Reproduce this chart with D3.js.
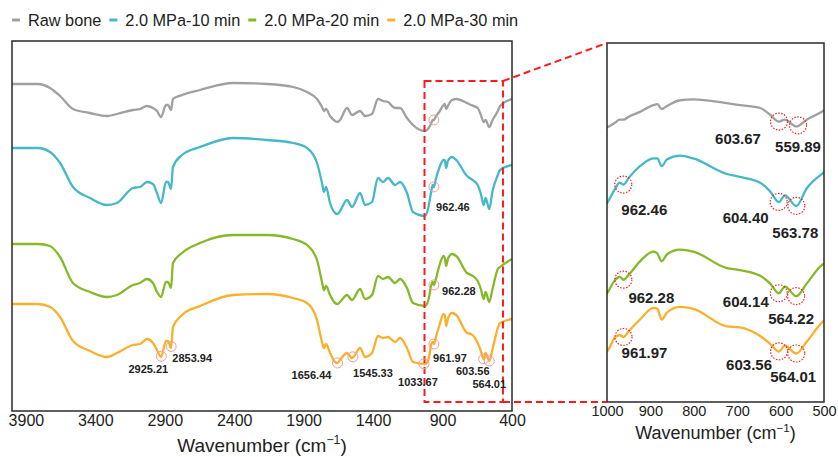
<!DOCTYPE html>
<html>
<head>
<meta charset="utf-8">
<script src="https://cdn.jsdelivr.net/npm/d3@7"></script>
<style>
  body { margin: 0; background: #fff; }
  svg { font-family: "Liberation Sans", Arial, sans-serif; }
</style>
</head>
<body>
<script>
// FTIR spectra, transmittance in arbitrary units (curves offset)
const wavenumbers = [4000, 3813, 3726, 3654, 3561, 3438, 3316, 3244, 3129, 3078, 3028, 2985, 2956, 2927, 2891, 2877, 2855, 2841, 2776, 2646, 2409, 2164, 1977, 1876, 1804, 1768, 1754, 1739, 1710, 1674, 1656, 1638, 1588, 1552, 1494, 1458, 1408, 1365, 1329, 1293, 1242, 1206, 1156, 1113, 1026, 1000, 981, 971, 962, 950, 924, 893, 884, 874, 862, 832, 801, 724, 694, 647, 624, 604, 590, 564, 540, 502, 486, 400];

const rawBone = [327, 327, 323, 315, 302, 298, 295, 297, 301, 302, 305, 303, 300, 294, 306, 306, 301, 312, 316, 321, 328, 327, 324, 319, 312, 304, 300, 302, 295, 290, 289, 291, 303, 296, 300, 295, 297, 312, 310, 309, 303, 303, 293, 286, 280, 283, 288, 291, 291, 294, 299, 306, 307, 302, 305, 311, 312, 308, 306, 303, 296, 289, 291, 284, 291, 300, 305, 312];
const mpa10 = [263, 263, 259, 248, 224, 213, 206, 208, 223, 224, 229, 227, 218, 208, 229, 229, 222, 244, 256, 264, 273, 271, 268, 263, 248, 228, 219, 224, 208, 198, 197, 200, 211, 204, 218, 206, 209, 233, 229, 233, 226, 229, 218, 199, 195, 205, 220, 226, 224, 231, 243, 251, 251, 243, 250, 254, 251, 235, 232, 226, 217, 206, 213, 202, 220, 236, 241, 246];
const mpa20 = [167, 167, 165, 154, 128, 119, 114, 116, 126, 128, 132, 128, 119, 114, 129, 129, 123, 148, 158, 168, 176, 176, 172, 166, 151, 129, 121, 125, 116, 108, 107, 109, 116, 111, 122, 112, 116, 135, 132, 134, 128, 132, 123, 108, 105, 112, 126, 129, 126, 131, 145, 155, 153, 145, 152, 157, 155, 138, 136, 130, 122, 112, 119, 109, 122, 142, 144, 152];
const mpa30 = [107, 107, 104, 94, 70, 60, 54, 58, 66, 67, 72, 68, 61, 54, 70, 70, 63, 84, 96, 105, 116, 117, 113, 108, 91, 69, 63, 67, 58, 49, 48, 51, 58, 53, 63, 54, 58, 75, 73, 74, 69, 73, 63, 49, 47, 52, 67, 69, 67, 73, 85, 97, 96, 85, 92, 98, 96, 78, 77, 68, 60, 52, 58, 50, 62, 83, 88, 92];

const seriesNames = ["Raw bone", "2.0 MPa-10 min", "2.0 MPa-20 min", "2.0 MPa-30 min"];
const seriesValues = [rawBone, mpa10, mpa20, mpa30];
const colors = ["#a0a0a0", "#45b8c8", "#84ba28", "#f9b02c"];

const mainTicks = [3900, 3400, 2900, 2400, 1900, 1400, 900, 400];
const insetTicks = [1000, 900, 800, 700, 600, 500];

// marked peaks: [series index, wavenumber, label]
const mainPeaks = [
  [0, 962.46, ""], [1, 962.46, "962.46"], [2, 962.28, "962.28"],
  [3, 2925.21, "2925.21"], [3, 2853.94, "2853.94"], [3, 1656.44, "1656.44"],
  [3, 1545.33, "1545.33"], [3, 1033.67, "1033.67"], [3, 961.97, "961.97"],
  [3, 603.56, "603.56"], [3, 564.01, "564.01"]
];
const insetPeaks = [
  [0, 603.67, "603.67"], [0, 559.89, "559.89"],
  [1, 962.46, "962.46"], [1, 604.40, "604.40"], [1, 563.78, "563.78"],
  [2, 962.28, "962.28"], [2, 604.14, "604.14"], [2, 564.22, "564.22"],
  [3, 961.97, "961.97"], [3, 603.56, "603.56"], [3, 564.01, "564.01"]
];
// label offsets from the circle (dx, baseline dy)
const mainOffsets = [[0, 0], [19, 24], [25, 10], [-13, 17], [21, 16], [-26, 16], [20, 20], [-6, 22], [16, 18], [-11, 16], [0, 27]];
const insetOffsets = [[-41, 22], [0, 27], [21, 30], [-33, 21], [-1, 32], [28, 23], [-33, 14], [-5, 28], [21, 21], [-30, 19], [-3, 29]];

const W = 838, H = 457;
const main = {left: 12, right: 512, top: 41, bottom: 411};
const inset = {left: 607, right: 824, top: 43, bottom: 402};

const svg = d3.select("body").append("svg")
  .attr("width", W).attr("height", H);

const xMain = d3.scaleLinear().domain([4000, 400]).range([main.left, main.right]);
const yMain = d3.scaleLinear().domain([0, 370]).range([main.bottom, main.top]);
const xInset = d3.scaleLinear().domain([1000, 500]).range([inset.left, inset.right]);
const yInset = d3.scaleLinear().domain([0, 370]).range([inset.bottom, inset.top]);

function valueAt(vals, wn) {
  for (let i = 0; i < wavenumbers.length - 1; i++) {
    const a = wavenumbers[i], b = wavenumbers[i + 1];
    if (wn <= a && wn >= b) {
      const t = (a - wn) / (a - b);
      return vals[i] + t * (vals[i + 1] - vals[i]);
    }
  }
  return vals[vals.length - 1];
}

const defs = svg.append("defs");
defs.append("clipPath").attr("id", "clipMain").append("rect")
  .attr("x", main.left).attr("y", main.top)
  .attr("width", main.right - main.left).attr("height", main.bottom - main.top);
defs.append("clipPath").attr("id", "clipInset").append("rect")
  .attr("x", inset.left).attr("y", inset.top)
  .attr("width", inset.right - inset.left).attr("height", inset.bottom - inset.top);

function drawPanel(x, y, clipId, box) {
  const line = d3.line()
    .x(d => x(d[0])).y(d => y(d[1]))
    .curve(d3.curveMonotoneX);
  const g = svg.append("g").attr("clip-path", "url(#" + clipId + ")");
  seriesValues.forEach((vals, i) => {
    g.append("path")
      .datum(wavenumbers.map((w, j) => [w, vals[j]]))
      .attr("fill", "none")
      .attr("stroke", colors[i])
      .attr("stroke-width", 2.3)
      .attr("stroke-linejoin", "round")
      .attr("d", line);
  });
  svg.append("rect")
    .attr("x", box.left).attr("y", box.top)
    .attr("width", box.right - box.left).attr("height", box.bottom - box.top)
    .attr("fill", "none").attr("stroke", "#2a2a2a").attr("stroke-width", 1.5);
}

drawPanel(xMain, yMain, "clipMain", main);
drawPanel(xInset, yInset, "clipInset", inset);

// axes (labels only)
const axMain = svg.append("g")
  .attr("transform", "translate(0," + main.bottom + ")")
  .call(d3.axisBottom(xMain).tickValues(mainTicks).tickFormat(d3.format("d"))
    .tickSize(0).tickPadding(4));
axMain.select(".domain").remove();
axMain.selectAll("text").attr("font-size", 16).attr("fill", "#222")
  .attr("font-family", "Liberation Sans, Arial, sans-serif");

const axInset = svg.append("g")
  .attr("transform", "translate(0," + inset.bottom + ")")
  .call(d3.axisBottom(xInset).tickValues(insetTicks).tickFormat(d3.format("d"))
    .tickSize(0).tickPadding(4));
axInset.select(".domain").remove();
axInset.selectAll("text").attr("font-size", 14.5).attr("fill", "#222")
  .attr("font-family", "Liberation Sans, Arial, sans-serif");

function axisTitle(cx, cy, size) {
  const t = svg.append("text")
    .attr("x", cx).attr("y", cy)
    .attr("text-anchor", "middle")
    .attr("font-size", size).attr("fill", "#222");
  t.append("tspan").text("Wavenumber (cm");
  t.append("tspan").attr("font-size", size * 0.65).attr("dy", -size * 0.4).text("\u22121");
  t.append("tspan").attr("dy", size * 0.4).text(")");
}
axisTitle((main.left + main.right) / 2, 452, 19);
axisTitle((inset.left + inset.right) / 2, 439, 18);

// zoom box and connectors
const boxL = xMain(1030), boxR = xMain(465), boxT = yMain(330), boxB = yMain(9);
const red = "#ff1a1a";
svg.append("rect")
  .attr("x", boxL).attr("y", boxT)
  .attr("width", boxR - boxL).attr("height", boxB - boxT)
  .attr("fill", "none").attr("stroke", red)
  .attr("stroke-width", 2).attr("stroke-dasharray", "7,4");
svg.append("line")
  .attr("x1", boxR).attr("y1", boxT).attr("x2", inset.left).attr("y2", inset.top)
  .attr("stroke", red).attr("stroke-width", 2).attr("stroke-dasharray", "7,4");
svg.append("line")
  .attr("x1", boxR).attr("y1", boxB).attr("x2", inset.left).attr("y2", boxB)
  .attr("stroke", red).attr("stroke-width", 2).attr("stroke-dasharray", "7,4");

// peak markers
function drawPeaks(peaks, offsets, x, y, r, size, dotted) {
  peaks.forEach((p, i) => {
    const cx = x(p[1]), cy = y(valueAt(seriesValues[p[0]], p[1]));
    svg.append("circle")
      .attr("cx", cx).attr("cy", cy).attr("r", r)
      .attr("fill", "none")
      .attr("stroke", dotted ? "#ee2222" : "#f19a9a")
      .attr("stroke-width", dotted ? 1.2 : 1)
      .attr("stroke-dasharray", dotted ? "1.5,1.5" : null);
    if (p[2]) {
      svg.append("text")
        .attr("x", cx + offsets[i][0]).attr("y", cy + offsets[i][1])
        .attr("text-anchor", "middle")
        .attr("font-size", size).attr("font-weight", "bold")
        .attr("fill", "#222")
        .text(p[2]);
    }
  });
}
drawPeaks(mainPeaks, mainOffsets, xMain, yMain, 5, 11, false);
drawPeaks(insetPeaks, insetOffsets, xInset, yInset, 8.5, 15, true);

// legend
let lx = 12;
seriesNames.forEach((name, i) => {
  svg.append("line")
    .attr("x1", lx).attr("x2", lx + 8).attr("y1", 20).attr("y2", 20)
    .attr("stroke", colors[i]).attr("stroke-width", 3);
  const t = svg.append("text")
    .attr("x", lx + 16).attr("y", 26)
    .attr("font-size", 16.3).attr("fill", "#222")
    .text(name);
  lx += 16 + t.node().getComputedTextLength() + 8;
});
</script>
</body>
</html>
